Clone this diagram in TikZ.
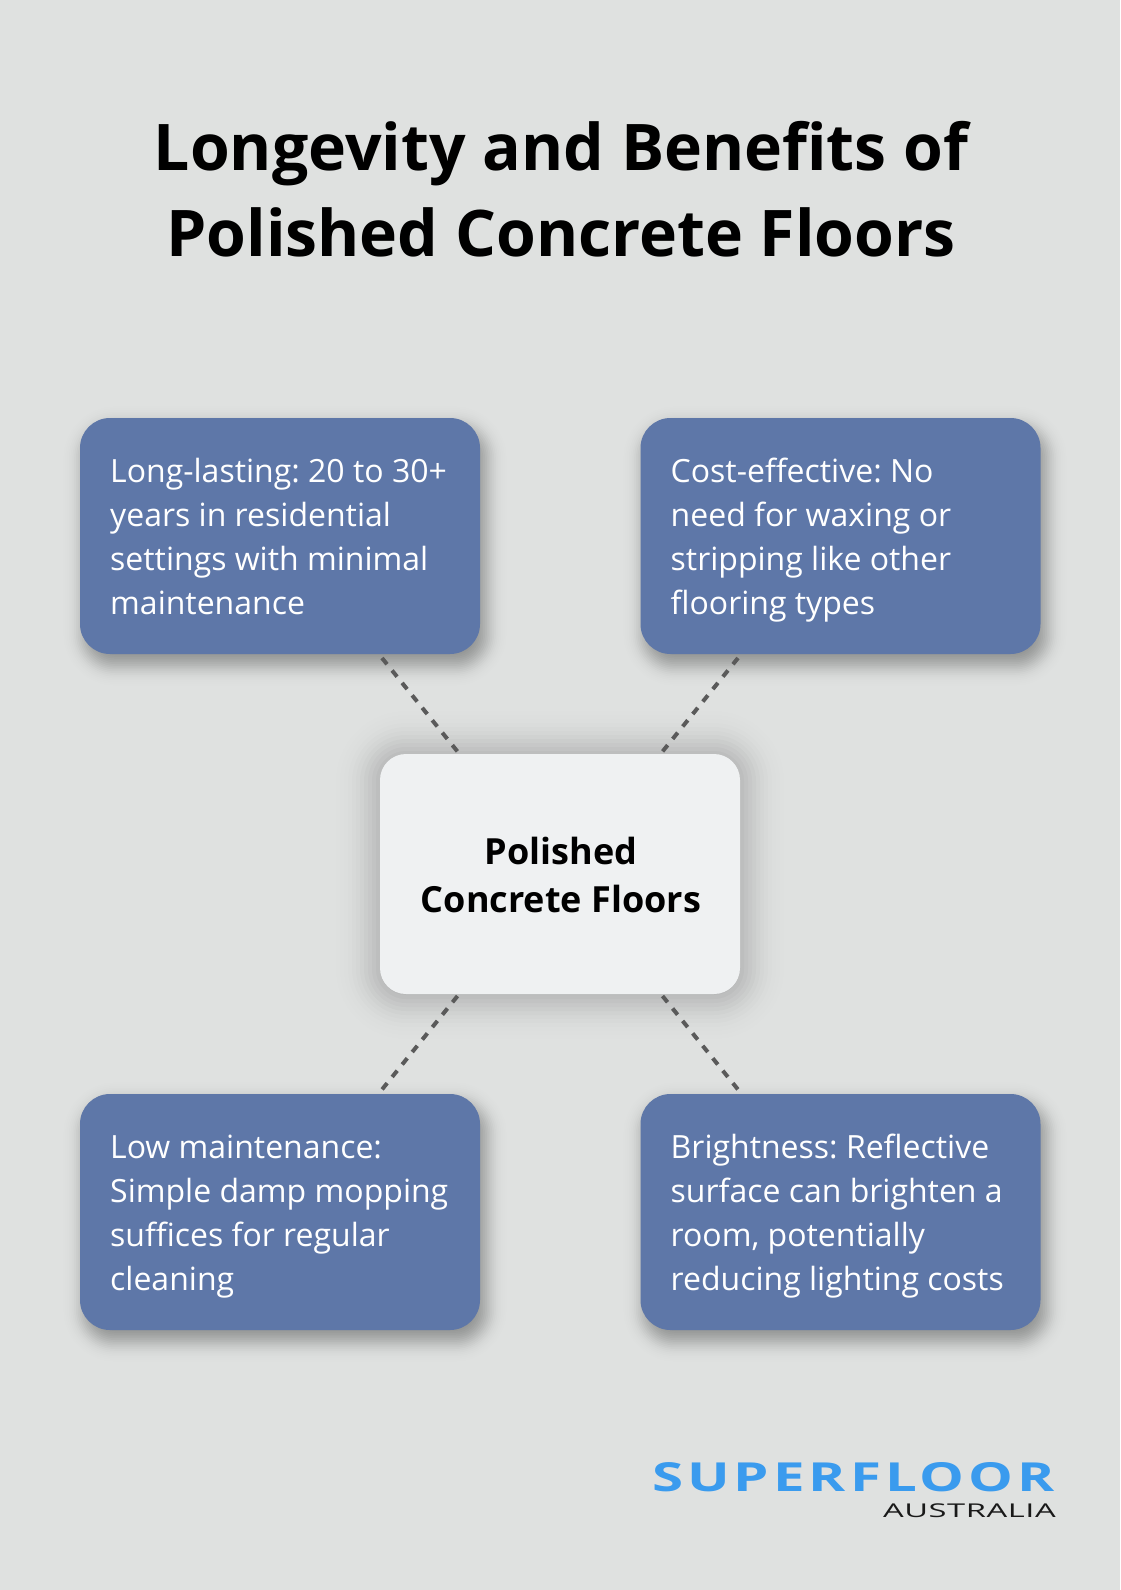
\documentclass[tikz,border=0pt]{standalone}
\usepackage{fontspec}
\setmainfont{Open Sans}
\newfontfamily\logofont[FakeStretch=1.41,LetterSpace=10]{Open Sans}
\newfontfamily\logosub[FakeStretch=1.72,LetterSpace=3]{Open Sans}
\usetikzlibrary{calc}
\definecolor{bgc}{HTML}{DFE1E0}
\definecolor{bluec}{HTML}{5E77A8}
\definecolor{lightc}{HTML}{EFF1F2}
\definecolor{dashc}{HTML}{5A5A5A}
\definecolor{logoblue}{HTML}{3A9BEE}
\tikzset{
  x=1pt,y=-1pt,
  card/.style={rounded corners=30pt,fill=bluec,minimum width=400pt,minimum height=236pt,draw=none,inner sep=0pt},
  hub/.style={rounded corners=26pt,fill=lightc,minimum width=360pt,minimum height=240pt,draw=none,inner sep=0pt},
  cardtext/.style={text=white,font=\fontsize{32}{44}\selectfont,align=left,anchor=north west,inner sep=0pt},
  hubtext/.style={text=black,font=\fontsize{36}{48}\selectfont\bfseries,align=center,inner sep=0pt},
  link/.style={draw=dashc,line width=4pt,dash pattern=on 8pt off 8pt},
  titletext/.style={text=black,font=\fontsize{64.3}{86}\selectfont\bfseries,align=center,inner sep=0pt}
}
% soft shadow: stack of translucent rounded rectangles with gaussian weights
\newcommand{\softshadow}[7]{% cx cy w h spread peak radius
  \foreach \k in {0,...,30}{
    \pgfmathsetmacro{\xx}{1-\k/15}
    \pgfmathsetmacro{\sp}{#5*\xx}
    \pgfmathsetmacro{\rad}{max(3,#7+\sp)}
    \pgfmathsetmacro{\op}{#6*exp(-4*\xx*\xx)}
    \fill[black,opacity=\op,rounded corners=\rad pt]
      (#1-#3/2-\sp,#2-#4/2-\sp) rectangle (#1+#3/2+\sp,#2+#4/2+\sp);
  }
}
\begin{document}
\begin{tikzpicture}
\frenchspacing
\useasboundingbox (0,0) rectangle (1120,1590);
\fill[bgc] (0,0) rectangle (1120,1590);
\node[titletext] (title) at (561,189) {Longevity and Benefits of\\Polished Concrete Floors};
% shadows
\softshadow{285}{546}{400}{236}{27}{0.03}{30}
\softshadow{845}{546}{400}{236}{27}{0.03}{30}
\softshadow{285}{1222}{400}{236}{27}{0.03}{30}
\softshadow{845}{1222}{400}{236}{27}{0.03}{30}
\softshadow{560}{875}{360}{240}{60}{0.024}{26}
% cards
\node[card] (tl) at (280,536) {};
\node[card] (tr) at (840.5,536) {};
\node[card] (bl) at (280,1212) {};
\node[card] (br) at (840.5,1212) {};
\node[hub] (hub) at (560,874) {};
\node[cardtext] (tlt) at (110,458) {Long-lasting: 20 to 30+\\years in residential\\settings with minimal\\maintenance};
\node[cardtext] (trt) at (670.5,458) {Cost-effective: No\\need for waxing or\\stripping like other\\flooring types};
\node[cardtext] (blt) at (110,1135) {Low maintenance:\\Simple damp mopping\\suffices for regular\\cleaning};
\node[cardtext] (brt) at (670.5,1134) {Brightness: Reflective\\surface can brighten a\\room, potentially\\reducing lighting costs};
\node[hubtext] (hubt) at (561,875) {Polished\\Concrete Floors};
% connectors
\coordinate (a1) at (382,658); \coordinate (a2) at (457.5,751.5);
\coordinate (b1) at (738,658); \coordinate (b2) at (662.5,751.5);
\coordinate (c1) at (457.5,996); \coordinate (c2) at (382,1089.5);
\coordinate (d1) at (662.5,996); \coordinate (d2) at (738,1089.5);
\draw[link] (a1) -- (a2);
\draw[link] (b1) -- (b2);
\draw[link] (c1) -- (c2);
\draw[link] (d1) -- (d2);
% logo
\node[inner sep=0pt,anchor=east,text=logoblue,font=\fontsize{40}{40}\selectfont\logofont\bfseries] (logo) at (1055,1477.5) {SUPERFLOOR};
\node[inner sep=0pt,anchor=east,text=black!90,font=\fontsize{19}{19}\selectfont\logosub] (logos) at (1056,1511) {AUSTRALIA};
\end{tikzpicture}
\end{document}
